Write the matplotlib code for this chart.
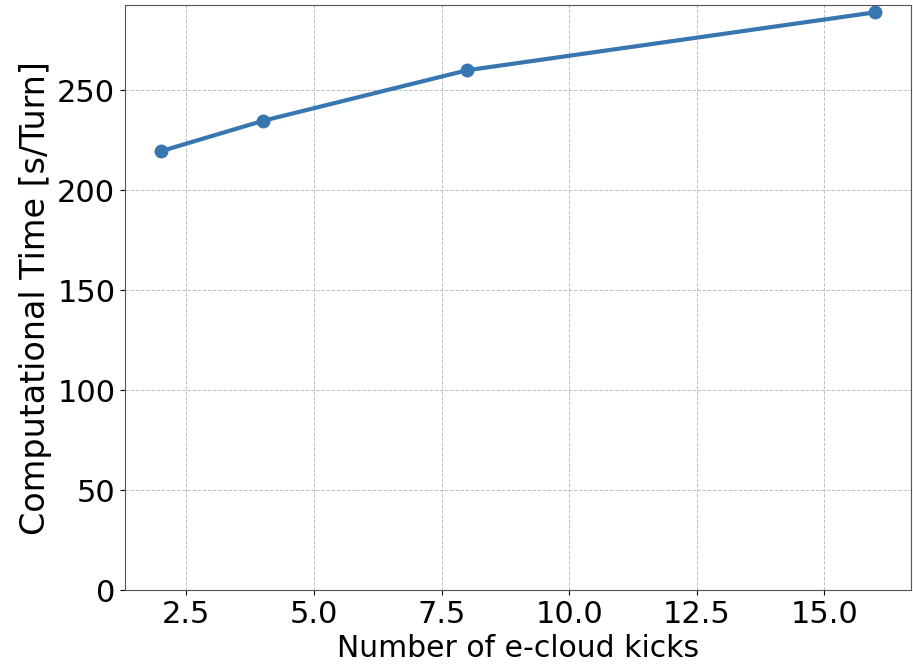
import matplotlib
matplotlib.use("Agg")
import matplotlib.pyplot as plt
from matplotlib.ticker import MultipleLocator

# number of e-cloud kicks vs. time per turn
kicks = [2, 4, 8, 16]
comp_time = [219.5, 234.7, 260.0, 289.0]

fig, ax = plt.subplots(figsize=(9.13, 6.66), dpi=100)
fig.subplots_adjust(left=0.137, right=0.998, top=0.992, bottom=0.114)

ax.plot(kicks, comp_time, '-o', color='#3776b0', lw=3, ms=9)
ax.set_ylim(bottom=0)
ax.xaxis.set_major_locator(MultipleLocator(2.5))

ax.grid(True, ls='--', color='#c0c0c0', lw=0.7)
ax.set_xlabel('Number of e-cloud kicks', fontsize=21.5)
ax.set_ylabel('Computational Time [s/Turn]', fontsize=24)
ax.tick_params(labelsize=22)
for s in ax.spines.values():
    s.set_color('#555555')

fig.savefig('out.png')
